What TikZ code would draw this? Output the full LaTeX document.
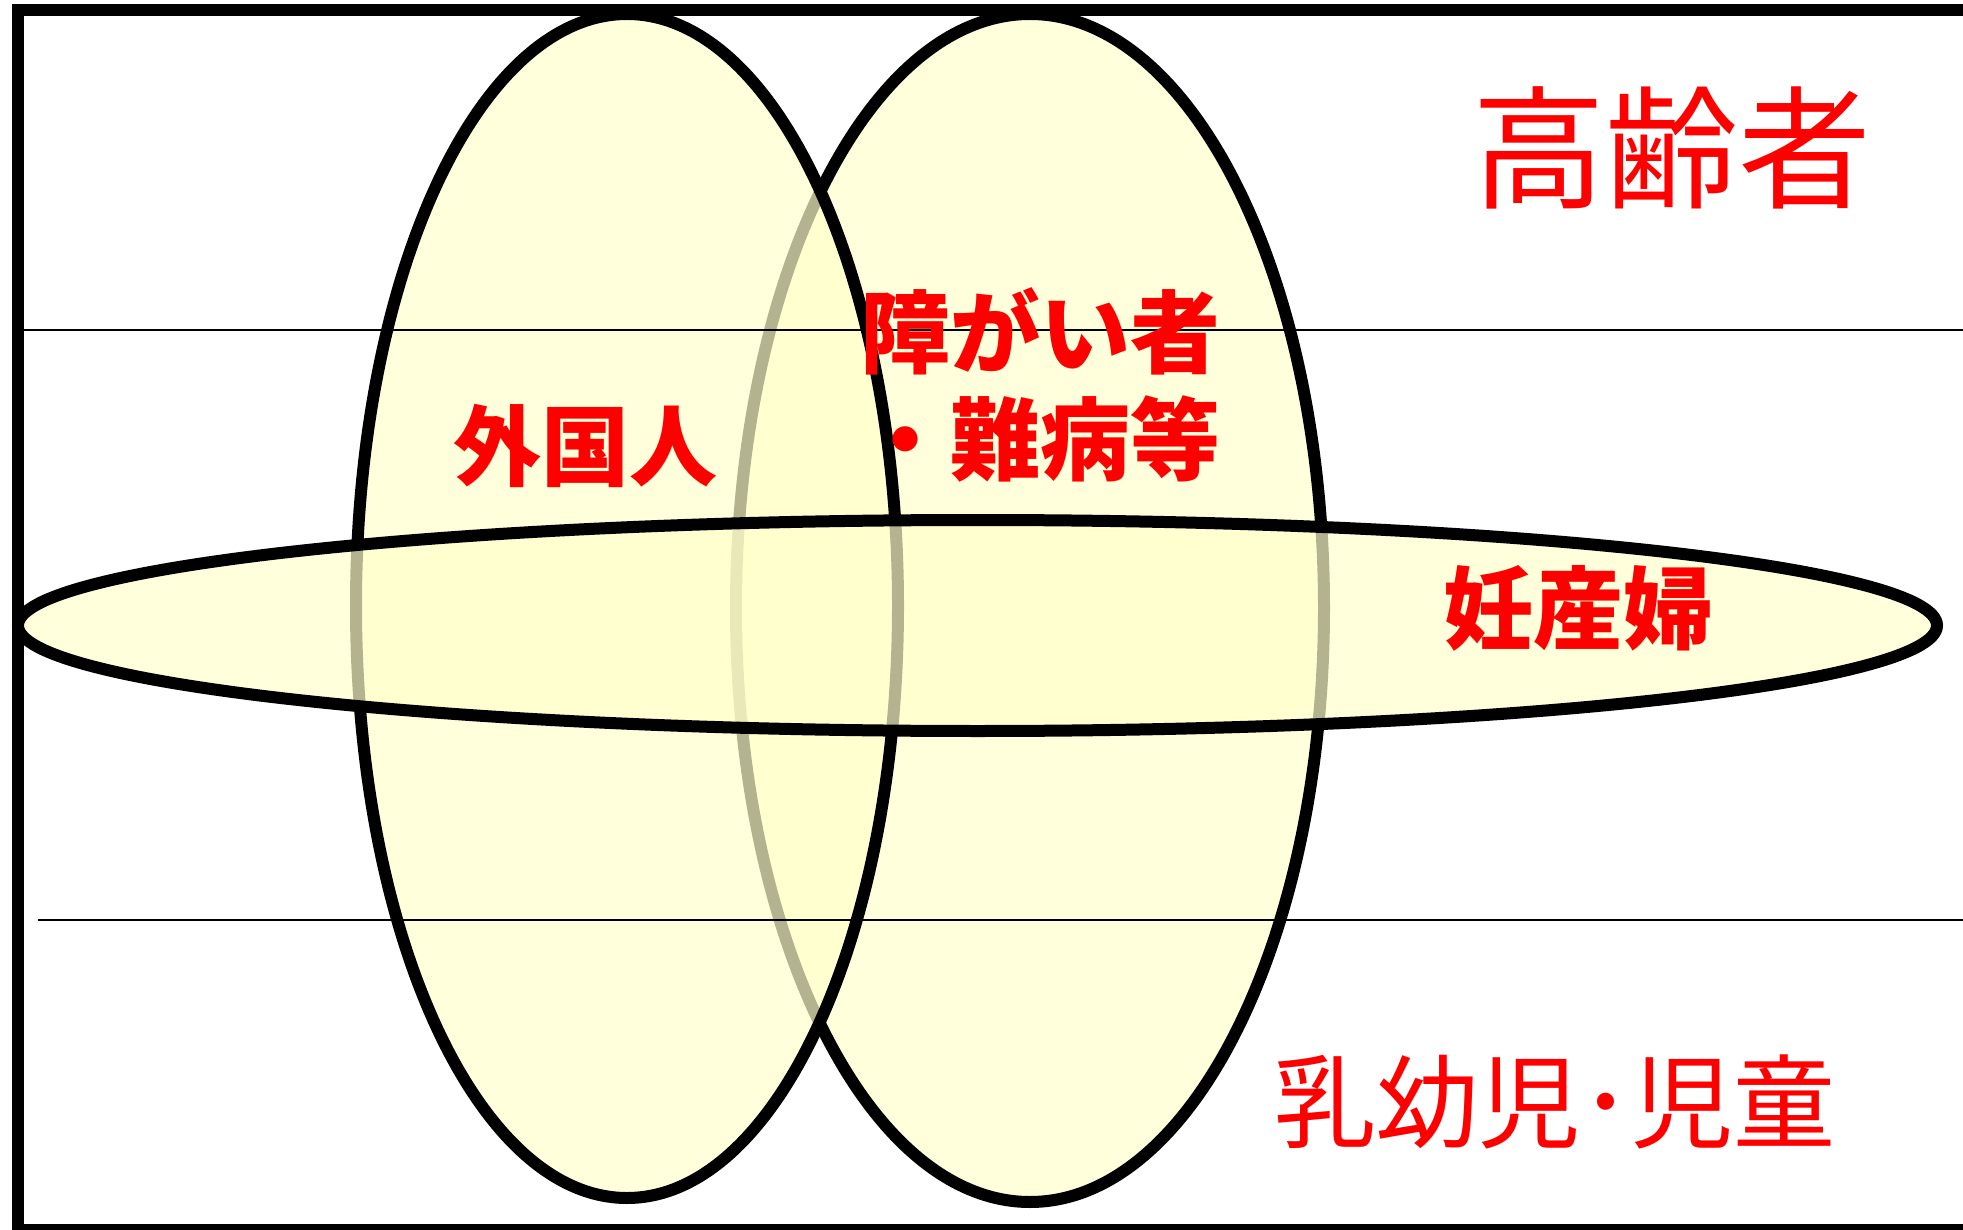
\documentclass[tikz,border=0pt]{standalone}
\usepackage{fontspec}
\newfontfamily\cjk{Noto Sans CJK JP}
\definecolor{venn}{HTML}{FFFFCC}
\definecolor{lbl}{HTML}{FF0000}
\begin{document}
\begin{tikzpicture}[x=1pt,y=-1pt,
  set/.style={draw=black, line width=12pt, fill=venn, fill opacity=0.7},
  rule/.style={draw=black, line width=1.8pt},
  frame/.style={draw=black, line width=12pt},
  big/.style={text=lbl, font=\cjk\fontsize{133}{140}\selectfont, inner sep=0pt},
  mid/.style={text=lbl, font=\cjk\fontsize{102}{110}\selectfont, inner sep=0pt},
  heavy/.style={text=lbl, font=\cjk\bfseries\fontsize{90}{100}\selectfont, inner sep=0pt}]
\useasboundingbox (0,0) rectangle (1963,1230);
\fill[white] (0,0) rectangle (1963,1230);
\path[set] (1030,608) ellipse [x radius=294, y radius=594];
\path[set] (627,606) ellipse [x radius=271, y radius=592];
\path[set] (977.5,625.5) ellipse [x radius=959.5, y radius=105.5];
\draw[rule] (18,330) -- (1963,330);
\draw[rule] (38,920) -- (1963,920);
\draw[frame] (2000,10) -- (18,10) -- (18,1230) -- (2000,1230);
\node[big] (elder) at (1672,148) {高齢者};
\node[mid] (child) at (1555,1102) {乳幼児･児童};
\node[heavy, font=\cjk\bfseries\fontsize{88}{100}\selectfont] (foreign) at (585,446) {外国人};
\node[heavy, anchor=west] (disab) at (860,331) {障がい者};
\node[heavy, anchor=west] (rare) at (860,439) {・難病等};
\node[heavy] (preg) at (1578,608) {妊産婦};
\end{tikzpicture}
\end{document}
